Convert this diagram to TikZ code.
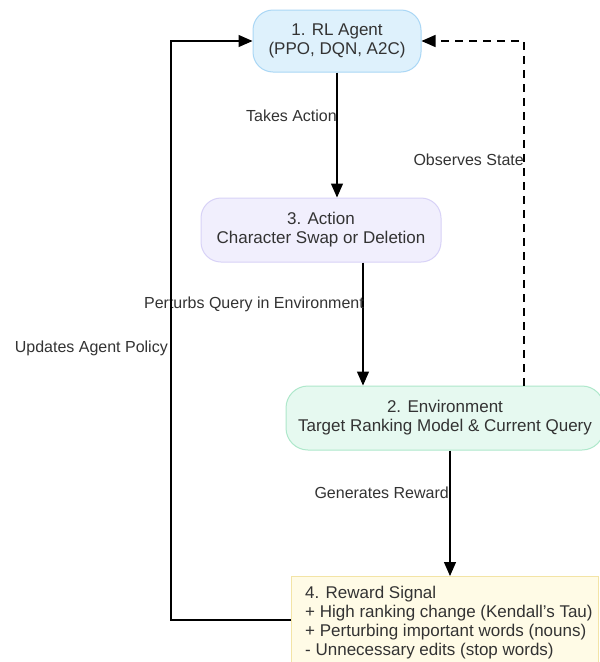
\documentclass[tikz,border=0pt]{standalone}
\usepackage{fontspec}
\setmainfont{Liberation Sans}
\usetikzlibrary{arrows.meta,calc}
\definecolor{ink}{HTML}{333333}
\definecolor{agentfill}{HTML}{DEF1FC}
\definecolor{agentline}{HTML}{AAD7F5}
\definecolor{actfill}{HTML}{F1EFFD}
\definecolor{actline}{HTML}{D8D2F7}
\definecolor{envfill}{HTML}{E6F9F0}
\definecolor{envline}{HTML}{AEE8CB}
\definecolor{rewfill}{HTML}{FFFBE6}
\definecolor{rewline}{HTML}{F3E4A6}
\tikzset{
  box/.style={draw, line width=1pt, rounded corners=20pt, align=center,
    text=ink, font=\fontsize{17}{19}\selectfont, inner sep=0pt},
  flow/.style={draw=black, line width=1.3pt, -{Triangle[length=14pt,width=12pt]}},
  lbl/.style={text=ink, font=\fontsize{16}{18}\selectfont, inner sep=0pt}
}
\begin{document}
\begin{tikzpicture}[x=1pt,y=-1pt]
\useasboundingbox (0,0) rectangle (600,662);
\fill[white] (0,0) rectangle (600,662);

% the four stages of the loop
\node[box, fill=agentfill, draw=agentline, minimum width=168pt, minimum height=62pt]
  (agent) at (337,41) {1. RL Agent\\(PPO, DQN, A2C)};
\node[box, fill=actfill, draw=actline, minimum width=240pt, minimum height=64pt]
  (action) at (321,230) {3. Action\\Character Swap or Deletion};
\node[box, fill=envfill, draw=envline, minimum width=318pt, minimum height=64pt, rounded corners=22pt]
  (env) at (445,418) {2. Environment\\Target Ranking Model \& Current Query};
\node[draw=rewline, fill=rewfill, line width=1pt, anchor=north west,
  minimum width=307pt, minimum height=100pt, inner sep=0pt]
  (reward) at (291,576) {};
\node[anchor=north west, align=left, text=ink, font=\fontsize{17}{19}\selectfont, inner sep=0pt]
  (rewardText) at (305,586) {4. Reward Signal\\
  + High ranking change (Kendall's Tau)\\
  + Perturbing important words (nouns)\\
  - Unnecessary edits (stop words)};

% forward connectors
\draw[flow] (agent.south) -- (agent.south |- action.north);
\node[lbl, anchor=east] (lTakes) at (337,116) {Takes Action};

\draw[flow] ([xshift=42pt]action.south) -- ([xshift=42pt]action.south |- env.north);
\node[lbl, anchor=east] (lPerturb) at (364,304) {Perturbs Query in Environment};

\draw[flow] ([xshift=5pt]env.south) -- ([xshift=5pt]env.south |- reward.north);
\node[lbl, anchor=east] (lReward) at (449,493) {Generates Reward};

% feedback connectors
\coordinate (obsTop) at ([xshift=79pt]env.north |- agent.east);
\draw[flow, dashed, dash pattern=on 8pt off 6pt]
  ([xshift=79pt]env.north) -- (obsTop) -- (agent.east);
\node[lbl, anchor=east] (lObserve) at (524,160) {Observes State};

\coordinate (polBot) at (171,620);
\draw[flow] (reward.west |- polBot) -- (polBot) -- (polBot |- agent.west) -- (agent.west);
\node[lbl, anchor=east] (lPolicy) at (168,348) {Updates Agent Policy};
\end{tikzpicture}
\end{document}
